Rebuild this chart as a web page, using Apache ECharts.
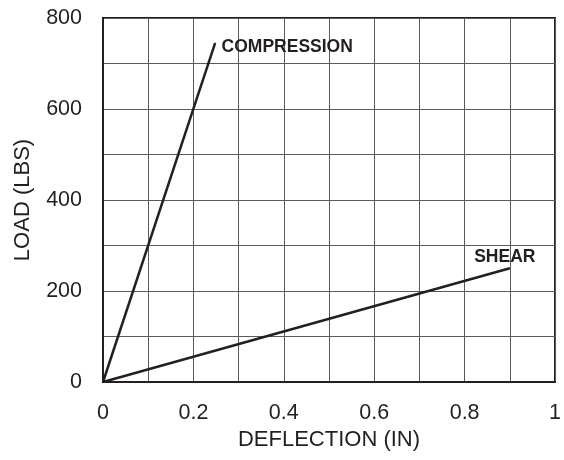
<!DOCTYPE html>
<html>
<head>
<meta charset="utf-8">
<script src="https://cdn.jsdelivr.net/npm/echarts@6/dist/echarts.min.js"></script>
<style>
html,body{margin:0;padding:0;background:#fff;}
#chart{width:564px;height:460px;}
</style>
</head>
<body>
<div id="chart"></div>
<script>
const seriesNames = ['COMPRESSION', 'SHEAR'];
const compressionData = [[0, 0], [0.248, 745]];
const shearData = [[0, 0], [0.9, 250]];
const xTickLabels = ['0', '0.2', '0.4', '0.6', '0.8', '1'];
const yTickLabels = ['0', '200', '400', '600', '800'];

const ink = '#231f20';
const gridGray = '#5a5a5a';
const font = '"Liberation Sans", Arial, Helvetica, sans-serif';

function lastLabel(data, labelOpts) {
  return data.map((d, i) => i === data.length - 1 ? { value: d, label: labelOpts } : { value: d });
}

const chart = echarts.init(document.getElementById('chart'));
chart.setOption({
  animation: false,
  backgroundColor: '#fff',
  grid: { left: 103, right: 6, top: 18, bottom: 78, show: true, borderColor: ink, borderWidth: 2, backgroundColor: 'transparent' },
  xAxis: {
    type: 'value', min: 0, max: 1, interval: 0.2,
    name: 'DEFLECTION (IN)', nameLocation: 'middle', nameGap: 47,
    nameTextStyle: { fontFamily: font, fontSize: 22, color: ink },
    axisLine: { show: true, lineStyle: { color: ink, width: 2 } },
    axisTick: { show: false },
    axisLabel: { margin: 20, fontFamily: font, fontSize: 21.5, color: ink,
      formatter: v => xTickLabels[Math.round(v * 5)] },
    splitLine: { show: true, lineStyle: { color: gridGray, width: 1 } },
    minorTick: { show: false, splitNumber: 2 },
    minorSplitLine: { show: true, lineStyle: { color: gridGray, width: 1 } }
  },
  yAxis: {
    type: 'value', min: 0, max: 800, interval: 200,
    name: 'LOAD (LBS)', nameLocation: 'middle', nameGap: 69, nameRotate: 90,
    nameTextStyle: { fontFamily: font, fontSize: 22, color: ink },
    axisLine: { show: true, lineStyle: { color: ink, width: 2 } },
    axisTick: { show: false },
    axisLabel: { margin: 21, fontFamily: font, fontSize: 21.5, color: ink,
      formatter: v => yTickLabels[Math.round(v / 200)] },
    splitLine: { show: true, lineStyle: { color: gridGray, width: 1 } },
    minorTick: { show: false, splitNumber: 2 },
    minorSplitLine: { show: true, lineStyle: { color: gridGray, width: 1 } }
  },
  series: [
    {
      name: seriesNames[0], type: 'line', symbol: 'circle', symbolSize: 1,
      itemStyle: { color: ink }, lineStyle: { color: ink, width: 2.5 },
      data: lastLabel(compressionData, {
        show: true, position: 'right', distance: 6, offset: [0, 4],
        formatter: seriesNames[0], fontFamily: font, fontSize: 17.5, fontWeight: 'bold', color: ink
      })
    },
    {
      name: seriesNames[1], type: 'line', symbol: 'circle', symbolSize: 1,
      itemStyle: { color: ink }, lineStyle: { color: ink, width: 2.5 },
      data: lastLabel(shearData, {
        show: true, position: 'top', distance: 2, offset: [-5, 0],
        formatter: seriesNames[1], fontFamily: font, fontSize: 17.5, fontWeight: 'bold', color: ink
      })
    }
  ]
});
</script>
</body>
</html>
